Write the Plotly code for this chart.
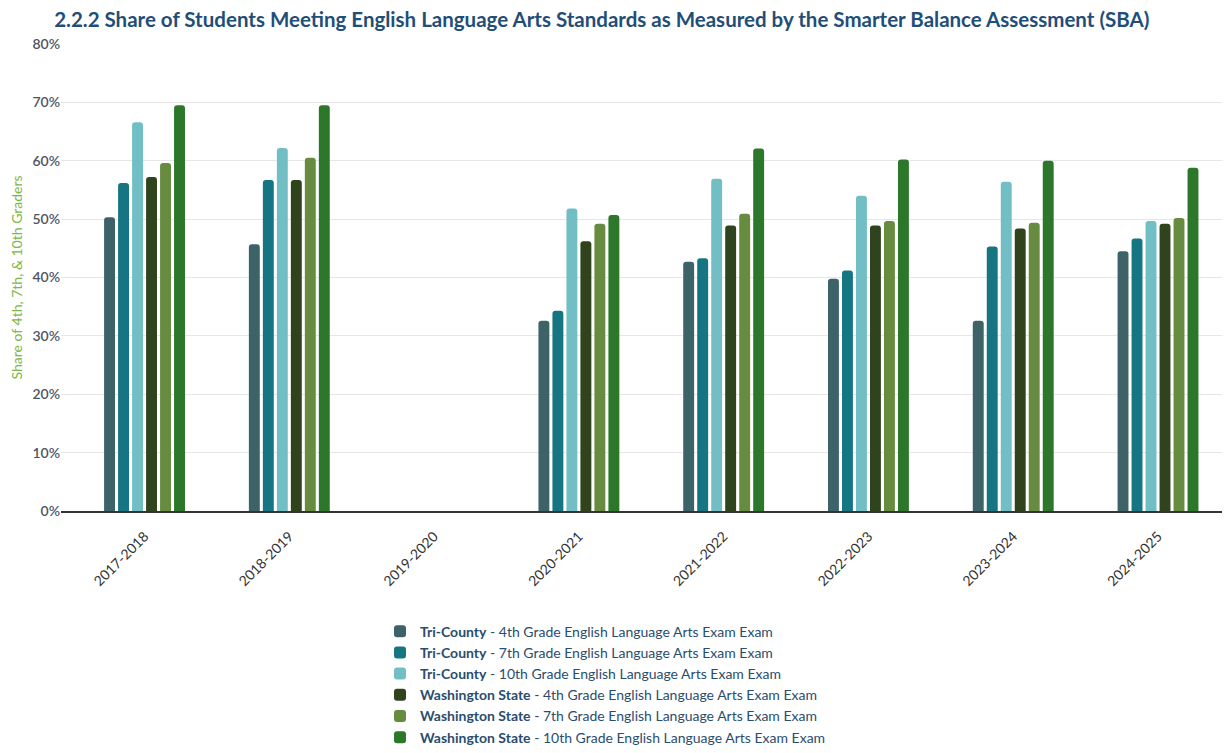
import plotly.graph_objects as go

years = ["2017-2018", "2018-2019", "2019-2020", "2020-2021",
         "2021-2022", "2022-2023", "2023-2024", "2024-2025"]

tc_4th = [50.3, 45.7, None, 32.6, 42.7, 39.8, 32.6, 44.5]
tc_7th = [56.2, 56.7, None, 34.3, 43.3, 41.2, 45.3, 46.7]
tc_10th = [66.6, 62.2, None, 51.8, 56.9, 54.0, 56.4, 49.7]
wa_4th = [57.2, 56.7, None, 46.2, 48.9, 48.9, 48.4, 49.2]
wa_7th = [59.6, 60.5, None, 49.2, 50.9, 49.7, 49.4, 50.2]
wa_10th = [69.5, 69.5, None, 50.7, 62.1, 60.2, 60.0, 58.8]

series = [
    ("Tri-County", "4th", tc_4th, "#3d6268"),
    ("Tri-County", "7th", tc_7th, "#157582"),
    ("Tri-County", "10th", tc_10th, "#72bec5"),
    ("Washington State", "4th", wa_4th, "#2f431d"),
    ("Washington State", "7th", wa_7th, "#678c40"),
    ("Washington State", "10th", wa_10th, "#2c772a"),
]

FONT = "Lato, 'Open Sans', sans-serif"

fig = go.Figure()
for region, grade, vals, color in series:
    fig.add_trace(
        go.Bar(
            x=years,
            y=[v / 100 if v is not None else None for v in vals],
            name=f"<b>{region}</b> - {grade} Grade English Language Arts Exam Exam",
            marker={"color": color, "line": {"width": 0}},
            hovertemplate="%{x}<br>%{y:.1%}<extra></extra>",
        )
    )

# page body has an 8px margin, so the figure is sized to fit inside it
fig.update_layout(
    width=1214,
    height=737,
    barmode="group",
    bargap=0.42,
    bargroupgap=0.22,
    barcornerradius=3,
    plot_bgcolor="white",
    paper_bgcolor="white",
    font={"family": FONT, "color": "#555555"},
    title={
        "text": "<b>2.2.2 Share of Students Meeting English Language Arts Standards as Measured by the Smarter Balance Assessment (SBA)</b>",
        "x": 0.038,
        "xanchor": "left",
        "y": 0.984,
        "yanchor": "middle",
        "font": {"size": 20.5, "color": "#1f4e79", "family": FONT},
    },
    margin={"l": 53, "r": 0, "t": 36, "b": 234, "autoexpand": False},
    legend={
        "orientation": "v",
        "x": 0.469,
        "xanchor": "center",
        "y": -0.224,
        "yanchor": "top",
        "font": {"size": 14, "color": "#2a4d6e", "family": FONT},
        "traceorder": "normal",
    },
    showlegend=True,
)

# categories sit a bit right of the gridline start, like the original
fig.update_xaxes(
    range=[-0.577, 7.442],
    tickangle=-45,
    tickfont={"size": 14, "color": "#333333"},
    ticklabelstandoff=10,
    showgrid=False,
    showline=True,
    linecolor="#333333",
    linewidth=1.5,
)
fig.update_yaxes(
    range=[0, 0.8],
    dtick=0.1,
    tickformat=".0%",
    tickfont={"size": 14, "color": "#4d5563", "weight": 600},
    gridcolor="#e6e6e6",
    zeroline=False,
    title={
        "text": "Share of 4th, 7th, & 10th Graders",
        "font": {"size": 14, "color": "#7ab648"},
        "standoff": 10,
    },
)

fig.write_html("out.html")
